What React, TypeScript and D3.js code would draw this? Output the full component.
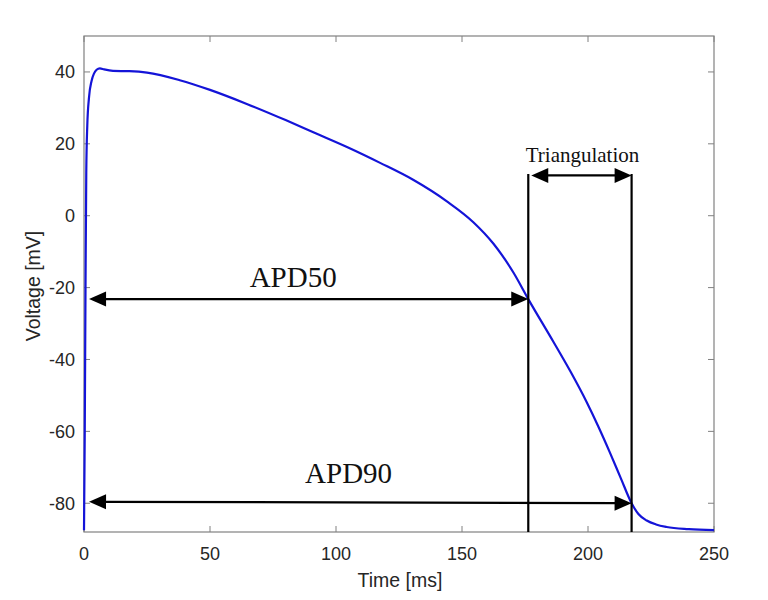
import React from "react";
import * as d3 from "d3";

const timeMs = [0, 0.3, 0.6, 0.9, 1.3, 2, 3, 4, 5, 6.3, 8, 11.5, 18, 25, 38, 50, 64.6, 80, 91, 105, 117.5, 130.6, 144, 154.5, 162.5, 170.4, 176.3, 186.2, 193, 199.5, 204, 208.7, 213, 217.3, 220, 223.3, 227, 231.2, 240, 250];
const voltage = [-87.5, -60, -20, 12, 25, 33, 37.5, 39.6, 40.6, 41, 40.7, 40.3, 40.2, 39.8, 37.7, 35.0, 31.1, 26.6, 23.2, 18.9, 14.7, 10.0, 4.0, -1.8, -7.8, -15.8, -23.2, -35.0, -43.3, -51.9, -58.5, -65.9, -73.0, -80.0, -83.0, -84.8, -85.9, -86.6, -87.2, -87.5];

const xTicks = [0, 50, 100, 150, 200, 250];
const yTicks = [-80, -60, -40, -20, 0, 20, 40];

const apd50 = { t: 176.3, v: -23.2, label: "APD50", labelT: 83 };
const apd90 = { t: 217.3, v: -80.0, label: "APD90", labelT: 105 };
const triangulation = { v: 11.2, top: 11.6, label: "Triangulation" };

const W = 768, H = 600;
const L = 84, R = 714, T = 36, B = 532;

function Arrow({ x1, y1, x2, y2, heads }: { x1: number; y1: number; x2: number; y2: number; heads: "start" | "end" | "both" }) {
  const len = 17, hw = 7.5;
  const dx = x2 - x1, dy = y2 - y1;
  const d = Math.hypot(dx, dy);
  const ux = dx / d, uy = dy / d;
  const px = -uy, py = ux;
  const head = (tx: number, ty: number, dirx: number, diry: number) => {
    const bx = tx - dirx * len, by = ty - diry * len;
    return `M${tx},${ty}L${bx + px * hw},${by + py * hw}L${bx - px * hw},${by - py * hw}Z`;
  };
  const sx = heads !== "end" ? x1 + ux * (len - 2) : x1;
  const sy = heads !== "end" ? y1 + uy * (len - 2) : y1;
  const ex = heads !== "start" ? x2 - ux * (len - 2) : x2;
  const ey = heads !== "start" ? y2 - uy * (len - 2) : y2;
  return (
    <g>
      <line x1={sx} y1={sy} x2={ex} y2={ey} stroke="#000" strokeWidth={2.2} />
      {heads !== "end" && <path d={head(x1, y1, -ux, -uy)} fill="#000" />}
      {heads !== "start" && <path d={head(x2, y2, ux, uy)} fill="#000" />}
    </g>
  );
}

export default function App() {
  const x = d3.scaleLinear().domain([0, 250]).range([L, R]);
  const y = d3.scaleLinear().domain([-88, 50]).range([B, T]);
  const pts: [number, number][] = timeMs.map((t, i) => [t, voltage[i]]);
  const line = d3.line<[number, number]>().x((d) => x(d[0])).y((d) => y(d[1])).curve(d3.curveMonotoneX);
  const axisColor = "#808080";
  const textColor = "#262626";
  const tickLen = 6;
  const sans = "Liberation Sans, Arial, Helvetica, sans-serif";
  const serif = "Liberation Serif, Times New Roman, serif";

  return (
    <svg width={W} height={H} style={{ position: "absolute", left: 0, top: 0, background: "#fff" }}>
      <rect x={0} y={0} width={W} height={H} fill="#fff" />
      {xTicks.map((t) => (
        <g key={"x" + t}>
          <line x1={x(t)} x2={x(t)} y1={B} y2={B - tickLen} stroke={axisColor} strokeWidth={1} />
          <line x1={x(t)} x2={x(t)} y1={T} y2={T + tickLen} stroke={axisColor} strokeWidth={1} />
          <text x={x(t)} y={560} textAnchor="middle" fontFamily={sans} fontSize={18} fill={textColor}>{t}</text>
        </g>
      ))}
      {yTicks.map((v) => (
        <g key={"y" + v}>
          <line x1={L} x2={L + tickLen} y1={y(v)} y2={y(v)} stroke={axisColor} strokeWidth={1} />
          <line x1={R} x2={R - tickLen} y1={y(v)} y2={y(v)} stroke={axisColor} strokeWidth={1} />
          <text x={75} y={y(v)} dy="0.35em" textAnchor="end" fontFamily={sans} fontSize={18} fill={textColor}>{v}</text>
        </g>
      ))}
      <rect x={L} y={T} width={R - L} height={B - T} fill="none" stroke={axisColor} strokeWidth={1.2} />
      <path d={line(pts) || ""} fill="none" stroke="#1414d8" strokeWidth={2.2} />
      <line x1={x(apd50.t)} x2={x(apd50.t)} y1={y(triangulation.top)} y2={B} stroke="#000" strokeWidth={2.2} />
      <line x1={x(apd90.t)} x2={x(apd90.t)} y1={y(triangulation.top)} y2={B} stroke="#000" strokeWidth={2.2} />
      <Arrow x1={x(2)} y1={y(apd50.v)} x2={x(apd50.t)} y2={y(apd50.v)} heads="both" />
      <Arrow x1={x(2)} y1={y(apd90.v) - 1.5} x2={x(apd90.t)} y2={y(apd90.v)} heads="both" />
      <Arrow x1={x(apd50.t) + 3} y1={y(triangulation.v)} x2={x(apd90.t)} y2={y(triangulation.v)} heads="both" />
      <text x={x(apd50.labelT)} y={287} textAnchor="middle" fontFamily={serif} fontSize={29} fill="#111">{apd50.label}</text>
      <text x={x(apd90.labelT)} y={483} textAnchor="middle" fontFamily={serif} fontSize={29} fill="#111">{apd90.label}</text>
      <text x={582.5} y={162} textAnchor="middle" fontFamily={serif} fontSize={21} fill="#111">{triangulation.label}</text>
      <text x={400} y={587} textAnchor="middle" fontFamily={sans} fontSize={19.5} fill={textColor}>Time [ms]</text>
      <text transform={`translate(40,286) rotate(-90)`} textAnchor="middle" fontFamily={sans} fontSize={19.5} fill={textColor}>Voltage [mV]</text>
    </svg>
  );
}
